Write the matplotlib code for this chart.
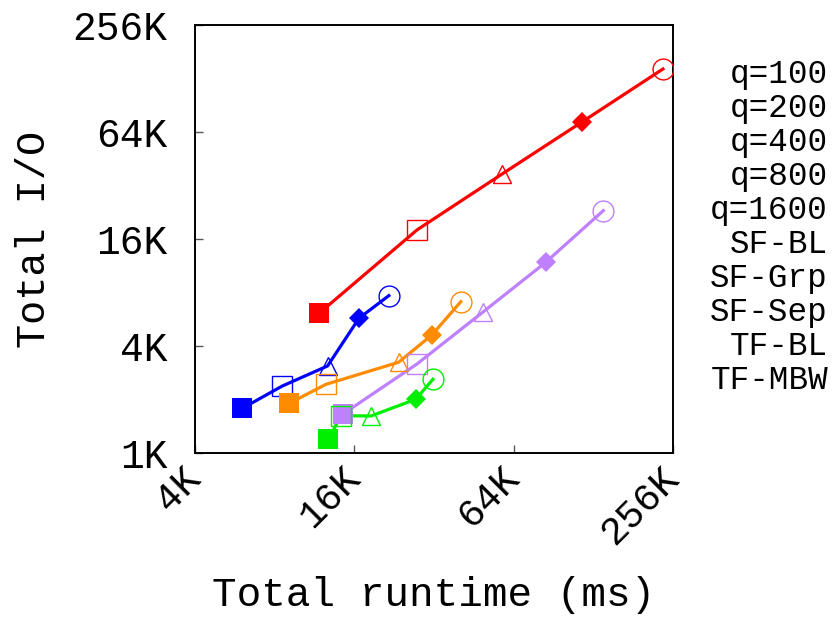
import matplotlib
matplotlib.use("Agg")
import matplotlib.pyplot as plt
from matplotlib.ticker import FixedLocator, NullLocator

plt.rcParams["font.family"] = ["Liberation Mono", "DejaVu Sans Mono"]

# runtime (K ms) and I/O (K) for each query size, one point per method
methods = ["SF-BL", "SF-Grp", "SF-Sep", "TF-BL", "TF-MBW"]
queries = ["q=100", "q=200", "q=400", "q=800", "q=1600"]

runtime = {
    "q=100":  [11.8, 27.6, 57.8, 116.0, 234.6],
    "q=200":  [6.04, 8.55, 12.67, 16.66, 21.6],
    "q=400":  [9.09, 12.5, 23.5, 31.4, 40.4],
    "q=800":  [14.5, 27.5, 49.0, 84.6, 139.6],
    "q=1600": [12.76, 14.25, 18.5, 27.3, 31.7],
}
total_io = {
    "q=100":  [6.13, 18.0, 37.1, 72.9, 144.8],
    "q=200":  [1.785, 2.382, 3.087, 5.73, 7.68],
    "q=400":  [1.904, 2.435, 3.238, 4.61, 7.10],
    "q=800":  [1.658, 3.156, 6.21, 11.83, 23.1],
    "q=1600": [1.194, 1.621, 1.615, 2.006, 2.599],
}

colors = {
    "q=100": "#ff0000",
    "q=200": "#0000ff",
    "q=400": "#ff8c00",
    "q=800": "#bf80ff",
    "q=1600": "#00ee00",
}
# (marker, filled, size)
marker_style = [("s", True, 14), ("s", False, 14), ("^", False, 13),
                ("D", True, 10.5), ("o", False, 15)]

fig = plt.figure(figsize=(8.36, 6.19), dpi=100)
ax = fig.add_axes([0.2333, 0.2682, 0.5717, 0.6914])

for q in queries:
    c = colors[q]
    ax.plot(runtime[q], total_io[q], "-", color=c, lw=2.3, zorder=2)
    for (m, filled, ms), x, y in zip(marker_style, runtime[q], total_io[q]):
        if filled:
            ax.plot(x, y, m, ms=ms, color=c, mec=c, mew=0, zorder=3)
        else:
            ax.plot(x, y, m, ms=ms, mfc="none", mec=c, mew=1.0, zorder=3)

ax.set_xscale("log", base=2)
ax.set_yscale("log", base=2)
ax.set_xlim(4, 256)
ax.set_ylim(1, 256)

xt = [4, 16, 64, 256]
yt = [1, 4, 16, 64, 256]
ax.xaxis.set_major_locator(FixedLocator(xt))
ax.yaxis.set_major_locator(FixedLocator(yt))
ax.xaxis.set_minor_locator(NullLocator())
ax.yaxis.set_minor_locator(NullLocator())
ax.set_xticklabels([f"{v}K" for v in xt], rotation=45, ha="right",
                   va="center", rotation_mode="anchor", fontsize=28)
ax.set_yticklabels([f"{v}K" for v in yt], fontsize=28.5)
ax.tick_params(axis="both", direction="in", length=6, width=1,
               color="#555555")
ax.tick_params(axis="y", pad=20)
ax.tick_params(axis="x", pad=14)

for s in ax.spines.values():
    s.set_linewidth(1.4)

ax.set_xlabel("Total runtime (ms)", fontsize=29.5, labelpad=18)
ax.set_ylabel("Total I/O", fontsize=29, labelpad=14)

# legend entries drawn as right-aligned text
for i, name in enumerate(queries + methods):
    fig.text(828 / 836, 1 - (75 + i * 33.9) / 619, name, ha="right",
             va="center", fontsize=23.5)

fig.savefig("out.png", dpi=100)
